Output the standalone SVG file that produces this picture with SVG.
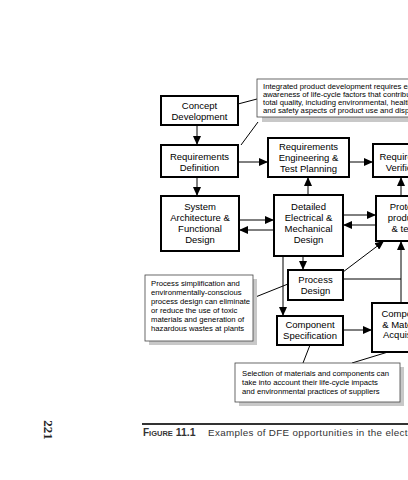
<svg xmlns="http://www.w3.org/2000/svg" width="408" height="480" viewBox="0 0 408 480">
<style>
.box{fill:#fff;stroke:#000;stroke-width:2}
.nt{font-family:"Liberation Sans",Arial,sans-serif;font-size:9.5px;fill:#000;text-anchor:middle}
.note{fill:#fff;stroke:#444;stroke-width:0.8}
.shadow{fill:#c8c8c8}
.at{font-family:"Liberation Sans",Arial,sans-serif;font-size:7.7px;fill:#000}
.ln{stroke:#000;stroke-width:1;fill:none}
.ar{stroke:#000;stroke-width:1;fill:none;marker-end:url(#ah)}
.cap{font-family:"Liberation Sans",Arial,sans-serif;fill:#333}
</style>
<defs>
<marker id="ah" markerUnits="userSpaceOnUse" markerWidth="9" markerHeight="8" refX="9" refY="4" orient="auto">
<path d="M0,0 L9,4 L0,8 z" fill="#000"/>
</marker>
</defs>
<rect width="408" height="480" fill="#fff"/>

<g id="connectors">
<line class="ar" x1="197" y1="125" x2="197" y2="145"/>
<line class="ar" x1="197" y1="177" x2="197" y2="196"/>
<line class="ar" x1="238" y1="162" x2="268" y2="162"/>
<line class="ar" x1="349" y1="162" x2="373" y2="162"/>
<line class="ar" x1="308" y1="195" x2="308" y2="177"/>
<line class="ar" x1="401" y1="196" x2="401" y2="177"/>
<line class="ar" x1="239" y1="220" x2="274" y2="220"/>
<line class="ar" x1="274" y1="230" x2="239" y2="230"/>
<line class="ar" x1="343" y1="215" x2="376" y2="215"/>
<line class="ar" x1="376" y1="225" x2="343" y2="225"/>
<line class="ar" x1="303" y1="256" x2="303" y2="270"/>
<line class="ar" x1="283" y1="256" x2="283" y2="316"/>
<line class="ar" x1="343" y1="272" x2="384" y2="241"/>
<line class="ln" x1="343" y1="279" x2="401" y2="279"/>
<line class="ar" x1="401" y1="303" x2="401" y2="241"/>
<line class="ar" x1="343" y1="330" x2="372" y2="330"/>
<line class="ln" x1="238" y1="104" x2="257" y2="99"/>
<line class="ln" x1="258" y1="122" x2="241" y2="145"/>
<line class="ln" x1="253" y1="298" x2="288" y2="284"/>
<line class="ln" x1="310" y1="345" x2="303" y2="363"/>
<line class="ln" x1="388" y1="352" x2="352" y2="363"/>
</g>

<g id="note-top">
<rect class="shadow" x="262" y="84" width="160" height="38"/>
<rect class="note" x="257" y="79" width="160" height="38"/>
<text class="at" x="263" y="88.5">Integrated product development requires early</text>
<text class="at" x="263" y="96.5">awareness of life-cycle factors that contribute to</text>
<text class="at" x="263" y="104.5">total quality, including environmental, health,</text>
<text class="at" x="263" y="112.5">and safety aspects of product use and disposal</text>
</g>

<g id="concept">
<rect class="box" x="161" y="96" width="77" height="29"/>
<text class="nt" x="199.5" y="109">Concept</text>
<text class="nt" x="199.5" y="120">Development</text>
</g>

<g id="req-def">
<rect class="box" x="161" y="145" width="77" height="32"/>
<text class="nt" x="199.5" y="159.5">Requirements</text>
<text class="nt" x="199.5" y="170.5">Definition</text>
</g>

<g id="req-eng">
<rect class="box" x="268" y="138" width="81" height="39"/>
<text class="nt" x="308.5" y="149.5">Requirements</text>
<text class="nt" x="308.5" y="160.5">Engineering &amp;</text>
<text class="nt" x="308.5" y="171.5">Test Planning</text>
</g>

<g id="req-ver">
<rect class="box" x="373" y="144" width="72" height="33"/>
<text class="nt" x="409" y="159.5">Requirements</text>
<text class="nt" x="409" y="170.5">Verification</text>
</g>

<g id="system">
<rect class="box" x="161" y="196" width="78" height="55"/>
<text class="nt" x="200" y="209.5">System</text>
<text class="nt" x="200" y="220.5">Architecture &amp;</text>
<text class="nt" x="200" y="231.5">Functional</text>
<text class="nt" x="200" y="242.5">Design</text>
</g>

<g id="detailed">
<rect class="box" x="274" y="195" width="69" height="61"/>
<text class="nt" x="308.5" y="209.5">Detailed</text>
<text class="nt" x="308.5" y="220.5">Electrical &amp;</text>
<text class="nt" x="308.5" y="231.5">Mechanical</text>
<text class="nt" x="308.5" y="242.5">Design</text>
</g>

<g id="prototype">
<rect class="box" x="376" y="196" width="70" height="45"/>
<text class="nt" x="410" y="209.5">Prototype</text>
<text class="nt" x="410" y="220.5">production</text>
<text class="nt" x="410" y="231.5">&amp; testing</text>
</g>

<g id="note-process">
<rect class="shadow" x="149" y="279" width="108" height="66"/>
<rect class="note" x="145" y="275" width="108" height="66"/>
<text class="at" x="151" y="286">Process simplification and</text>
<text class="at" x="151" y="295">environmentally-conscious</text>
<text class="at" x="151" y="304">process design can eliminate</text>
<text class="at" x="151" y="313">or reduce the use of toxic</text>
<text class="at" x="151" y="322">materials and generation of</text>
<text class="at" x="151" y="331">hazardous wastes at plants</text>
</g>

<g id="process">
<rect class="box" x="288" y="270" width="55" height="30"/>
<text class="nt" x="315.5" y="283">Process</text>
<text class="nt" x="315.5" y="294">Design</text>
</g>

<g id="comp-spec">
<rect class="box" x="277" y="316" width="66" height="29"/>
<text class="nt" x="310" y="327.5">Component</text>
<text class="nt" x="310" y="338.5">Specification</text>
</g>

<g id="comp-acq">
<rect class="box" x="372" y="303" width="68" height="49"/>
<text class="nt" x="406" y="317">Component</text>
<text class="nt" x="406" y="327.5">&amp; Materials</text>
<text class="nt" x="406" y="338">Acquisition</text>
</g>

<g id="note-bottom">
<rect class="shadow" x="239" y="367" width="165" height="39"/>
<rect class="note" x="235" y="363" width="165" height="39"/>
<text class="at" x="242" y="375.5">Selection of materials and components can</text>
<text class="at" x="242" y="384.5">take into account their life-cycle impacts</text>
<text class="at" x="242" y="393.5">and environmental practices of suppliers</text>
</g>

<g id="caption">
<line x1="142" y1="424" x2="408" y2="424" stroke="#333" stroke-width="2"/>
<text class="cap" x="143" y="436" font-weight="bold" font-size="10">F<tspan font-size="7.5">IGURE</tspan> <tspan font-size="10.5">11.1</tspan></text>
<text class="cap" x="208" y="436" font-size="9.8" letter-spacing="0.35">Examples of DFE opportunities in the electronics</text>
<text x="0" y="0" transform="translate(44,430) rotate(90)" font-family="'Liberation Serif','Times New Roman',serif" font-weight="bold" font-size="13" text-anchor="middle" fill="#222">221</text>
</g>
</svg>
